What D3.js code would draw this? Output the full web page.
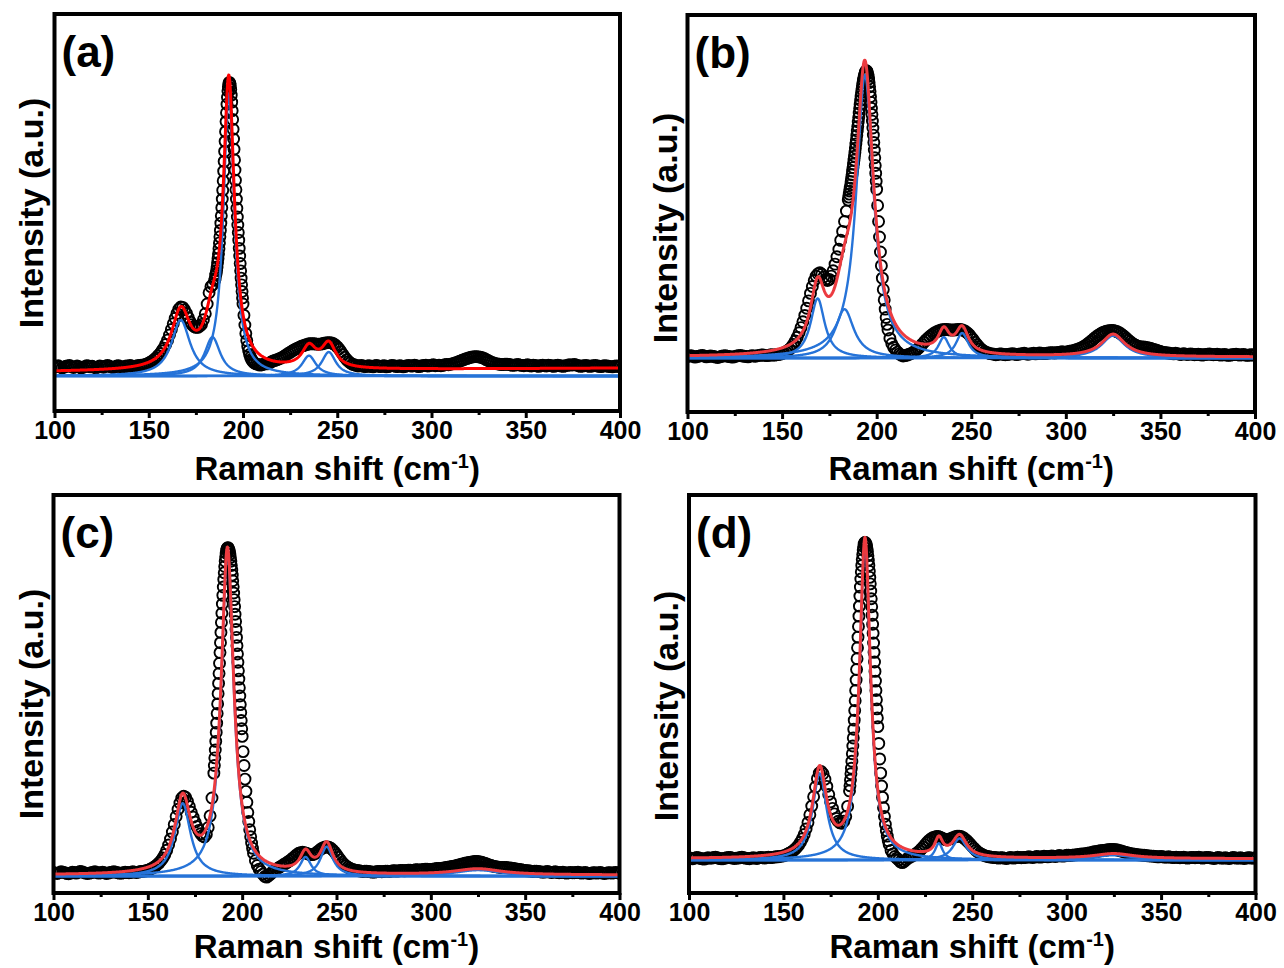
<!DOCTYPE html>
<html>
<head>
<meta charset="utf-8">
<script src="https://cdn.jsdelivr.net/npm/d3@7"></script>
<style>
  html, body { margin: 0; padding: 0; background: #fff; }
  svg { display: block; }
  text { font-family: "Liberation Sans", Arial, Helvetica, sans-serif; font-weight: bold; fill: #000; }
</style>
</head>
<body>
<svg id="chart" width="1284" height="968"></svg>
<script>
// Raman shift of the measured points (cm^-1)
const shift = [
  100,101,102,103,104,105,106,107,108,109,110,111,112,113,114,115,116,117,118,119,
  120,121,122,123,124,125,126,127,128,129,130,131,132,133,134,135,136,137,138,139,
  140,141,142,143,144,145,146,147,148,149,150,151,152,153,154,155,156,157,158,159,
  160,161,162,163,164,165,166,167,168,169,170,171,172,173,174,175,176,177,178,179,
  180,181,182,183,184,185,
  185.25,185.5,185.75,186,186.25,186.5,186.75,187,187.25,187.5,187.75,188,188.25,188.5,188.75,189,189.25,189.5,189.75,190,
  190.25,190.5,190.75,191,191.25,191.5,191.75,192,192.25,192.5,192.75,193,193.25,193.5,193.75,194,194.25,194.5,194.75,195,
  195.25,195.5,195.75,196,196.25,196.5,196.75,197,197.25,197.5,197.75,198,198.25,198.5,198.75,199,199.25,199.5,199.75,200,
  200.5,201,201.5,202,202.5,203,203.5,204,204.5,205,205.5,206,
  207,208,209,210,211,212,213,214,215,216,217,218,219,220,221,222,223,224,225,226,
  227,228,229,230,231,232,233,234,235,236,237,238,239,240,241,242,243,244,245,246,
  247,248,249,250,251,252,253,254,255,256,257,258,259,260,261,262,263,264,265,266,
  267,268,269,270,271,272,273,274,275,276,277,278,279,280,281,282,283,284,285,286,
  287,288,289,290,291,292,293,294,295,296,297,298,299,300,301,302,303,304,305,306,
  307,308,309,310,311,312,313,314,315,316,317,318,319,320,321,322,323,324,325,326,
  327,328,329,330,331,332,333,334,335,336,337,338,339,340,341,342,343,344,345,346,
  347,348,349,350,351,352,353,354,355,356,357,358,359,360,361,362,363,364,365,366,
  367,368,369,370,371,372,373,374,375,376,377,378,379,380,381,382,383,384,385,386,
  387,388,389,390,391,392,393,394,395,396,397,398,399,400
];

// Measured intensity (a.u.) of the four samples, same order as `shift`
const intensityA = [
  2.9,3.2,3.4,3.0,2.7,2.9,3.2,3.3,3.5,3.1,2.8,3.0,3.3,3.1,2.7,2.8,3.1,3.4,3.3,3.0,
  3.2,2.9,2.7,3.0,3.3,3.1,2.9,3.2,3.5,3.3,3.0,2.8,3.0,3.3,3.4,3.1,2.9,3.1,3.3,3.2,
  3.5,3.3,3.0,3.2,3.4,3.5,3.6,3.5,3.8,4.0,4.3,4.6,5.0,5.5,6.0,6.7,7.4,8.3,9.2,10.4,
  11.8,13.5,15.3,17.2,19.0,20.6,22.0,22.7,22.6,21.8,20.6,19.2,17.8,16.9,16.3,16.0,16.0,16.4,17.0,18.5,
  20.5,23.7,27.4,29.4,30.1,31.5,
  32.1,33.2,33.7,34.7,35.9,37.3,38.7,40.2,41.9,43.8,45.8,47.9,50.3,52.7,55.4,58.2,61.1,64.2,67.4,70.6,
  73.9,77.2,80.4,83.7,86.6,89.4,91.7,93.8,95.2,96.2,96.6,96.3,95.6,94.3,92.4,90.1,87.3,84.4,81.2,78.0,
  74.6,71.1,67.8,64.4,61.3,58.2,55.2,52.3,49.7,47.2,44.7,42.0,39.5,37.0,34.6,32.2,30.0,27.8,25.7,23.7,
  20.0,16.8,14.0,11.7,9.8,8.3,7.1,6.2,5.5,5.0,4.6,4.3,
  4.0,3.8,3.6,3.7,3.9,4.1,4.0,4.3,4.6,5.0,5.1,5.4,5.6,5.9,6.2,6.6,7.0,7.4,7.8,8.2,
  8.6,8.9,9.2,9.5,9.8,10.0,10.2,10.4,10.6,10.6,10.6,10.6,10.5,10.5,10.5,10.6,10.8,10.9,11.0,11.0,
  10.9,10.6,10.2,9.6,8.9,8.0,7.1,6.2,5.4,4.8,4.3,3.9,3.7,3.5,3.3,3.4,3.5,3.2,3.1,3.3,
  3.4,3.1,3.0,3.4,3.5,3.2,3.1,3.3,3.4,3.0,3.1,3.3,3.5,3.4,3.2,3.1,3.4,3.3,3.0,3.2,
  3.4,3.5,3.3,3.3,3.6,3.4,3.1,3.2,3.4,3.5,3.6,3.3,3.4,3.6,3.7,3.4,3.5,3.6,3.4,3.5,
  3.7,3.8,3.7,3.9,4.0,4.2,4.4,4.6,4.9,5.1,5.4,5.6,5.8,6.0,6.2,6.3,6.4,6.4,6.3,6.2,
  6.0,5.8,5.4,5.1,4.8,4.5,4.3,4.1,4.0,3.9,3.8,3.8,3.9,3.9,3.8,3.7,3.5,3.6,3.7,3.8,
  3.6,3.5,3.4,3.6,3.7,3.4,3.3,3.6,3.5,3.3,3.2,3.5,3.6,3.4,3.3,3.6,3.5,3.3,3.2,3.5,
  3.6,3.4,3.3,3.2,3.4,3.5,3.7,3.6,3.7,3.8,3.6,3.4,3.2,3.3,3.4,3.5,3.3,3.2,3.3,3.4,
  3.5,3.3,3.2,3.1,3.3,3.4,3.3,3.2,3.1,3.0,3.2,3.3,3.2,3.1
];
const intensityB = [
  0.5,0.7,0.8,0.5,0.3,0.5,0.6,0.8,0.9,0.6,0.4,0.5,0.7,0.6,0.5,0.3,0.2,0.4,0.6,0.7,
  0.8,0.6,0.5,0.4,0.3,0.5,0.7,0.8,0.9,0.7,0.6,0.5,0.4,0.6,0.8,0.7,0.6,0.8,0.9,1.0,
  1.0,0.9,0.8,0.9,1.1,1.0,1.0,1.1,1.2,1.3,1.5,1.8,2.1,2.5,3.0,3.7,4.6,5.7,7.0,8.5,
  10.2,12.2,14.3,16.7,19.2,21.7,24.0,26.0,27.5,28.3,28.6,28.1,27.2,26.4,26.0,26.4,27.5,29.3,31.5,34.0,
  36.5,39.5,42.5,45.8,49.3,53.0,
  54.0,55.0,56.0,57.0,58.1,59.2,60.3,61.5,62.7,63.9,65.1,66.4,67.7,69.0,70.4,71.8,73.2,74.7,76.2,77.7,
  79.2,80.7,82.2,83.7,85.1,86.5,87.8,89.1,90.3,91.4,92.4,93.3,94.1,94.8,95.4,95.9,96.2,96.4,96.3,96.0,
  95.4,94.6,93.6,92.4,91.0,89.4,87.7,85.8,83.8,81.7,79.5,77.2,74.8,72.3,69.8,67.2,64.6,62.0,59.3,56.6,
  51.2,45.8,40.6,35.6,31.0,26.8,23.0,19.5,16.4,13.6,11.3,9.4,
  6.6,4.8,3.6,2.7,2.0,1.4,1.0,0.7,0.8,1.0,1.2,1.5,1.8,2.2,2.7,3.2,3.9,4.6,5.3,6.0,
  6.6,7.2,7.7,8.2,8.6,8.9,9.2,9.4,9.5,9.6,9.6,9.5,9.4,9.4,9.4,9.5,9.6,9.6,9.5,9.3,
  8.9,8.4,7.8,7.0,6.2,5.3,4.5,3.8,3.1,2.6,2.2,1.9,1.7,1.5,1.4,1.3,1.1,1.2,1.4,1.4,
  1.2,1.1,1.2,1.3,1.4,1.5,1.3,1.2,1.3,1.4,1.5,1.6,1.4,1.3,1.4,1.5,1.6,1.4,1.5,1.7,
  1.6,1.5,1.5,1.6,1.7,1.8,1.8,1.7,1.8,1.9,2.0,2.1,2.0,2.0,2.1,2.3,2.4,2.5,2.7,2.9,
  3.1,3.4,3.7,4.1,4.5,5.0,5.5,6.0,6.6,7.1,7.6,8.0,8.4,8.7,8.9,9.1,9.2,9.3,9.3,9.1,
  8.9,8.6,8.2,7.7,7.2,6.6,6.0,5.5,5.0,4.6,4.3,4.0,3.8,3.7,3.7,3.6,3.5,3.4,3.2,3.0,
  2.8,2.6,2.4,2.2,2.0,1.9,1.8,1.7,1.6,1.5,1.4,1.6,1.5,1.3,1.2,1.5,1.4,1.2,1.3,1.4,
  1.3,1.1,1.2,1.3,1.2,1.0,1.1,1.2,1.3,1.4,1.2,1.1,1.2,1.3,1.1,1.0,1.1,1.2,1.0,0.9,
  1.0,1.1,1.2,1.3,1.1,1.0,1.1,1.2,1.0,0.9,1.0,1.1,1.0,1.0
];
const intensityC = [
  1.1,0.9,0.8,1.0,1.3,1.2,1.0,0.8,0.7,0.9,1.2,1.1,0.9,1.1,1.4,1.3,1.1,0.9,0.8,0.9,
  1.0,1.2,1.3,1.1,0.9,1.0,1.2,1.0,0.8,0.9,1.1,1.2,1.3,1.2,1.0,0.9,0.9,1.0,1.2,1.1,
  1.0,1.1,1.3,1.2,1.1,1.2,1.4,1.4,1.5,1.6,1.8,2.0,2.3,2.6,3.0,3.5,4.0,4.7,5.5,6.5,
  7.8,9.4,11.2,13.3,15.6,18.0,20.2,22.1,23.6,24.1,23.8,22.6,21.0,19.3,17.8,16.3,15.0,13.8,12.8,12.1,
  11.8,12.6,14.7,18.2,23.6,31.1,
  33.4,35.7,38.1,40.7,43.4,46.2,49.1,52.0,55.1,58.2,61.2,64.3,67.5,70.5,73.6,76.6,79.4,82.2,84.8,87.3,
  89.6,91.6,93.5,95.1,96.4,97.5,98.4,98.9,99.1,99.2,98.9,98.5,97.9,97.2,96.2,95.1,93.8,92.4,90.9,89.2,
  87.4,85.5,83.5,81.4,79.1,76.9,74.5,72.1,69.6,67.1,64.6,62.0,59.5,56.9,54.4,51.8,49.4,47.0,44.5,42.2,
  37.6,33.4,29.3,25.6,22.3,19.2,16.5,14.0,11.9,10.0,8.4,6.9,
  4.7,3.2,2.1,1.4,0.6,-0.1,-0.3,0.1,0.6,1.2,1.6,2.0,2.4,2.8,3.1,3.5,3.8,4.2,4.6,5.0,
  5.5,6.0,6.5,6.9,7.1,7.2,7.1,6.9,6.7,6.5,6.5,6.6,6.9,7.4,7.8,8.3,8.6,8.8,8.8,8.7,
  8.4,7.9,7.3,6.5,5.7,4.9,4.2,3.6,3.1,2.7,2.4,2.1,1.9,1.8,1.7,1.6,1.5,1.4,1.5,1.5,
  1.4,1.3,1.2,1.2,1.3,1.4,1.4,1.3,1.4,1.5,1.5,1.4,1.5,1.6,1.6,1.5,1.6,1.7,1.7,1.6,
  1.7,1.8,1.8,1.7,1.8,1.9,1.9,1.8,1.9,2.0,2.1,2.1,2.0,2.0,2.1,2.2,2.3,2.3,2.3,2.4,
  2.5,2.6,2.7,2.8,2.9,3.0,3.1,3.3,3.4,3.6,3.7,3.9,4.0,4.1,4.2,4.3,4.4,4.4,4.4,4.3,
  4.2,4.0,3.8,3.6,3.4,3.2,3.0,2.9,2.8,2.7,2.6,2.6,2.6,2.6,2.5,2.5,2.4,2.3,2.2,2.1,
  2.0,1.9,1.8,1.7,1.6,1.6,1.5,1.4,1.5,1.5,1.4,1.3,1.2,1.2,1.3,1.4,1.2,1.1,1.2,1.3,
  1.1,1.0,1.1,1.2,1.0,0.9,1.0,1.1,1.0,1.0,1.1,1.2,1.0,0.9,1.0,1.1,0.9,0.8,0.9,1.0,
  1.0,0.9,1.0,1.1,0.9,0.8,0.9,1.0,1.0,0.9,1.0,1.1,1.0,0.9
];
const intensityD = [
  0.7,0.5,0.4,0.6,0.8,0.7,0.5,0.4,0.3,0.5,0.7,0.6,0.6,0.8,0.9,0.7,0.5,0.4,0.4,0.6,
  0.7,0.8,0.8,0.6,0.5,0.6,0.6,0.8,0.9,0.7,0.6,0.5,0.4,0.6,0.7,0.6,0.5,0.7,0.8,0.7,
  0.6,0.8,0.9,0.8,0.8,0.9,1.0,1.0,1.1,1.2,1.3,1.5,1.8,2.1,2.4,2.8,3.3,3.9,4.6,5.5,
  6.6,7.9,9.6,11.6,14.0,16.7,19.6,22.6,25.2,26.9,27.4,26.7,25.0,22.8,20.3,18.0,16.0,14.3,12.9,12.0,
  11.5,11.4,12.0,13.5,16.6,21.4,
  23.0,24.8,26.7,28.4,30.6,32.9,35.3,37.8,40.5,43.3,46.3,49.3,52.5,55.7,59.0,62.3,65.7,69.0,72.3,75.5,
  78.6,81.7,84.5,87.0,89.2,91.2,93.0,94.6,96.0,97.0,97.8,98.2,98.3,98.2,97.8,97.2,96.4,95.5,94.2,92.8,
  91.2,89.4,87.5,85.5,83.3,80.9,78.4,75.8,73.0,70.2,67.2,64.3,61.3,58.4,55.4,52.5,49.6,46.8,44.0,41.3,
  36.1,31.3,26.9,22.9,19.4,16.2,13.5,11.1,9.1,7.4,6.0,4.8,
  3.0,1.9,1.1,0.6,0.0,-0.6,-0.8,-0.4,0.1,0.6,0.9,1.2,1.5,1.9,2.3,2.8,3.4,4.0,4.7,5.4,
  6.0,6.5,6.9,7.1,7.3,7.3,7.1,6.8,6.5,6.3,6.3,6.5,6.7,7.0,7.2,7.4,7.4,7.3,7.0,6.6,
  6.1,5.5,4.9,4.2,3.6,3.0,2.5,2.1,1.8,1.5,1.3,1.1,1.0,0.9,0.8,0.8,0.7,0.6,0.7,0.7,
  0.6,0.5,0.6,0.8,0.7,0.6,0.7,0.9,0.8,0.7,0.8,0.8,0.9,1.0,0.9,0.8,0.9,1.1,1.0,0.9,
  1.0,1.2,1.1,1.0,1.1,1.3,1.2,1.1,1.2,1.4,1.3,1.2,1.3,1.5,1.5,1.4,1.5,1.6,1.6,1.7,
  1.8,1.9,1.9,2.0,2.1,2.2,2.3,2.5,2.6,2.7,2.8,2.9,3.0,3.0,3.1,3.2,3.3,3.3,3.3,3.2,
  3.1,2.9,2.8,2.6,2.4,2.3,2.1,2.0,1.9,1.8,1.7,1.6,1.6,1.5,1.5,1.4,1.3,1.3,1.2,1.2,
  1.1,1.0,1.0,1.1,1.0,0.9,0.9,1.0,0.9,0.8,0.8,0.9,0.8,0.7,0.8,0.9,0.7,0.6,0.7,0.8,
  0.8,0.7,0.8,0.9,0.7,0.6,0.7,0.8,0.8,0.7,0.6,0.5,0.6,0.8,0.7,0.6,0.6,0.7,0.6,0.5,
  0.6,0.8,0.7,0.6,0.6,0.7,0.6,0.5,0.6,0.7,0.7,0.6,0.6,0.7
];

// Lorentzian peaks of each fit: centre (cm^-1), height (a.u.), FWHM (cm^-1)
const centersA = [167, 183.8, 192.5, 235, 245.5];
const heightsA = [18.4, 12.8, 93, 6.7, 7.9];
const widthsA  = [12, 10, 7, 9, 9];
const offsetA  = [1.4, 2.6];   // linear background at 100 and 400 cm^-1

const centersB = [168.8, 183, 193.8, 235.5, 245.2, 325];
const heightsB = [20, 16.4, 95, 7, 8.4, 7.5];
const widthsB  = [9, 12, 11, 7, 8, 15];
const offsetB  = [0.3, 0.3];

const centersC = [168.5, 192.2, 233.6, 244.8, 325];
const heightsC = [22, 98, 5.8, 8.9, 1.8];
const widthsC  = [10, 8, 7, 8, 30];
const offsetC  = [0.3, 0.3];

const centersD = [169.2, 193.2, 232.3, 243.3, 325];
const heightsD = [26.8, 98.5, 5.2, 6.7, 1.5];
const widthsD  = [9, 7, 5, 9, 25];
const offsetD  = [0.4, 0.4];

// Axis ticks and panel tags
const majorTicks = [100, 150, 200, 250, 300, 350, 400];
const minorTicks = [125, 175, 225, 275, 325, 375];
const panelTags = ["(a)", "(b)", "(c)", "(d)"];

// Panel layout (pixels) and vertical ranges
const panels = [
  { tag: panelTags[0], data: intensityA, c: centersA, h: heightsA, w: widthsA, off: offsetA,
    box: { l: 54.5, r: 620, t: 14, b: 411 }, yDom: [-11.5, 119.1], red: "#ff0000",
    yTitle: { x: 43, y: 213 }, xTitleY: 480 },
  { tag: panelTags[1], data: intensityB, c: centersB, h: heightsB, w: widthsB, off: offsetB,
    box: { l: 687.5, r: 1255, t: 15, b: 412 }, yDom: [-18.1, 115.1], red: "#ec3b40",
    yTitle: { x: 677, y: 228 }, xTitleY: 480 },
  { tag: panelTags[2], data: intensityC, c: centersC, h: heightsC, w: widthsC, off: offsetC,
    box: { l: 53.5, r: 619.5, t: 495, b: 893 }, yDom: [-5.1, 115.1], red: "#ec3b40",
    yTitle: { x: 43, y: 704 }, xTitleY: 958 },
  { tag: panelTags[3], data: intensityD, c: centersD, h: heightsD, w: widthsD, off: offsetD,
    box: { l: 689, r: 1255.5, t: 495, b: 893 }, yDom: [-10.2, 113], red: "#ec3b40",
    yTitle: { x: 678, y: 706 }, xTitleY: 958 }
];

const BLUE = "#2673d8";
const svg = d3.select("#chart");
const defs = svg.append("defs");

// Points at which the fitted profiles are evaluated
const modelShift = d3.range(100, 400.0001, 0.2);

function lorentz(c, h, w) {
  const g = w / 2;
  return v => h / (1 + ((v - c) / g) * ((v - c) / g));
}

panels.forEach((p, i) => {
  const { l, r, t, b } = p.box;
  const x = d3.scaleLinear().domain([100, 400]).range([l, r]);
  const y = d3.scaleLinear().domain(p.yDom).range([b, t]);
  const g = svg.append("g");

  defs.append("clipPath").attr("id", "clip" + i)
    .append("rect").attr("x", l).attr("y", t).attr("width", r - l).attr("height", b - t);
  const plot = g.append("g").attr("clip-path", `url(#clip${i})`);

  // measured spectrum: open circles
  plot.append("g").selectAll("circle")
    .data(d3.zip(shift, p.data))
    .join("circle")
    .attr("cx", d => x(d[0]))
    .attr("cy", d => y(d[1]))
    .attr("r", 5.5)
    .attr("fill", "none")
    .attr("stroke", "#000")
    .attr("stroke-width", 1.9);

  const line = d3.line().x(d => x(d[0])).y(d => y(d[1]));

  // zero line of the components
  plot.append("path")
    .attr("d", line([[100, 0], [400, 0]]))
    .attr("stroke", BLUE).attr("stroke-width", 2.6).attr("fill", "none");

  // individual fitted peaks
  const comps = p.c.map((c, k) => lorentz(c, p.h[k], p.w[k]));
  comps.forEach(f => {
    plot.append("path")
      .attr("d", line(modelShift.map(v => [v, f(v)])))
      .attr("fill", "none").attr("stroke", BLUE)
      .attr("stroke-width", 2.4).attr("stroke-linejoin", "round");
  });

  // cumulative fit
  const bg = d3.scaleLinear().domain([100, 400]).range(p.off);
  const total = modelShift.map(v => [v, bg(v) + d3.sum(comps, f => f(v))]);
  plot.append("path")
    .attr("d", line(total))
    .attr("fill", "none").attr("stroke", p.red)
    .attr("stroke-width", 3).attr("stroke-linejoin", "round");

  // frame
  g.append("rect")
    .attr("x", l).attr("y", t).attr("width", r - l).attr("height", b - t)
    .attr("fill", "none").attr("stroke", "#000").attr("stroke-width", 4);

  // bottom axis: major and minor ticks
  const major = d3.axisBottom(x).tickValues(majorTicks).tickSize(7).tickPadding(3)
    .tickFormat(d3.format("d"));
  const ax = g.append("g").attr("transform", `translate(0,${b})`).call(major);
  ax.select(".domain").remove();
  ax.selectAll(".tick line").attr("stroke", "#000").attr("stroke-width", 3);
  ax.selectAll(".tick text").style("font-size", "25px").attr("fill", "#000");

  const minor = d3.axisBottom(x).tickValues(minorTicks).tickSize(4).tickFormat("");
  const axm = g.append("g").attr("transform", `translate(0,${b})`).call(minor);
  axm.select(".domain").remove();
  axm.selectAll(".tick line").attr("stroke", "#000").attr("stroke-width", 3);

  // x title with superscript
  const xt = g.append("text")
    .attr("x", (l + r) / 2).attr("y", p.xTitleY)
    .attr("text-anchor", "middle").style("font-size", "33px");
  xt.append("tspan").text("Raman shift (cm");
  xt.append("tspan").attr("dy", -12).style("font-size", "20px").text("-1");
  xt.append("tspan").attr("dy", 12).text(")");

  // y title
  g.append("text")
    .attr("transform", `translate(${p.yTitle.x},${p.yTitle.y}) rotate(-90)`)
    .attr("text-anchor", "middle").style("font-size", "34px")
    .text("Intensity (a.u.)");

  // panel tag
  g.append("text")
    .attr("x", l + 7).attr("y", t + 53)
    .style("font-size", "44px")
    .text(p.tag);
});
</script>
</body>
</html>
